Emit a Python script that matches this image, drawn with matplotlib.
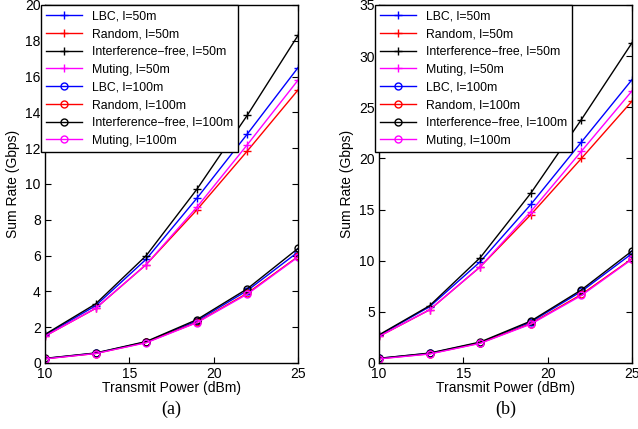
import matplotlib
matplotlib.use('Agg')
import matplotlib.pyplot as plt

plt.rcParams['font.family'] = ['Liberation Sans', 'DejaVu Sans']

# Transmit power (dBm)
power = [10, 13, 16, 19, 22, 25]

# (a) sum rate, Gbps
a_lbc_50 = [1.55, 3.2, 5.8, 9.2, 12.8, 16.5]
a_rand_50 = [1.5, 3.05, 5.5, 8.55, 11.85, 15.25]
a_if_50 = [1.6, 3.3, 6.0, 9.7, 13.85, 18.3]
a_mut_50 = [1.5, 3.05, 5.5, 8.7, 12.2, 15.8]
a_lbc_100 = [0.25, 0.55, 1.18, 2.35, 4.05, 6.2]
a_rand_100 = [0.24, 0.53, 1.15, 2.27, 3.9, 5.95]
a_if_100 = [0.26, 0.56, 1.2, 2.42, 4.15, 6.4]
a_mut_100 = [0.23, 0.53, 1.13, 2.25, 3.85, 5.92]

# (b) sum rate, Gbps
b_lbc_50 = [2.7, 5.5, 9.9, 15.5, 21.6, 27.7]
b_rand_50 = [2.6, 5.2, 9.4, 14.5, 20.0, 25.6]
b_if_50 = [2.75, 5.6, 10.3, 16.6, 23.8, 31.3]
b_mut_50 = [2.6, 5.2, 9.4, 14.8, 20.7, 26.6]
b_lbc_100 = [0.45, 0.95, 2.0, 4.0, 7.0, 10.7]
b_rand_100 = [0.42, 0.9, 1.95, 3.85, 6.7, 10.2]
b_if_100 = [0.46, 0.97, 2.05, 4.1, 7.15, 10.95]
b_mut_100 = [0.4, 0.88, 1.92, 3.8, 6.6, 10.15]

labels = ['LBC, l=50m', 'Random, l=50m', 'Interference\u2212free, l=50m', 'Muting, l=50m',
          'LBC, l=100m', 'Random, l=100m', 'Interference\u2212free, l=100m', 'Muting, l=100m']
colors = ['#0000ff', '#ff0000', '#000000', '#ff00ff'] * 2
markers = ['+'] * 4 + ['o'] * 4

panels = [
    ([a_lbc_50, a_rand_50, a_if_50, a_mut_50, a_lbc_100, a_rand_100, a_if_100, a_mut_100],
     20, [0, 2, 4, 6, 8, 10, 12, 14, 16, 18, 20], '(a)'),
    ([b_lbc_50, b_rand_50, b_if_50, b_mut_50, b_lbc_100, b_rand_100, b_if_100, b_mut_100],
     35, [0, 5, 10, 15, 20, 25, 30, 35], '(b)'),
]

fig = plt.figure(figsize=(6.38, 4.29), dpi=100)
lefts = [45 / 638, 379 / 638]
for (series, ymax, yticks, cap), left in zip(panels, lefts):
    ax = fig.add_axes([left, 66 / 429, 253 / 638, 358 / 429])
    for s, lab, c, m in zip(series, labels, colors, markers):
        ax.plot(power, s, color=c, marker=m, markersize=6 if m == '+' else 5,
                markerfacecolor='none', markeredgewidth=1, linewidth=1, label=lab)
    ax.set_xlim(10, 25)
    ax.set_ylim(0, ymax)
    ax.set_xticks([10, 15, 20, 25])
    ax.set_yticks(yticks)
    ax.tick_params(direction='in', top=True, right=True, labelsize=10, length=4, pad=3)
    for sp in ax.spines.values():
        sp.set_linewidth(1)
    ax.set_xlabel('Transmit Power (dBm)', fontsize=10, labelpad=0)
    ax.set_ylabel('Sum Rate (Gbps)', fontsize=10, labelpad=4)
    leg = ax.legend(loc='upper left', bbox_to_anchor=(-0.016, 1.0), fontsize=8.8,
                    frameon=True, fancybox=False, edgecolor='black', framealpha=1,
                    borderaxespad=0, handlelength=2.9, labelspacing=0.47,
                    borderpad=0.45, handletextpad=0.8)
    leg.get_frame().set_linewidth(1)
    ax.text(0.5, -0.105, cap, transform=ax.transAxes, ha='center', va='top',
            fontsize=13, family='Liberation Serif')

fig.savefig('out.png', dpi=100)
